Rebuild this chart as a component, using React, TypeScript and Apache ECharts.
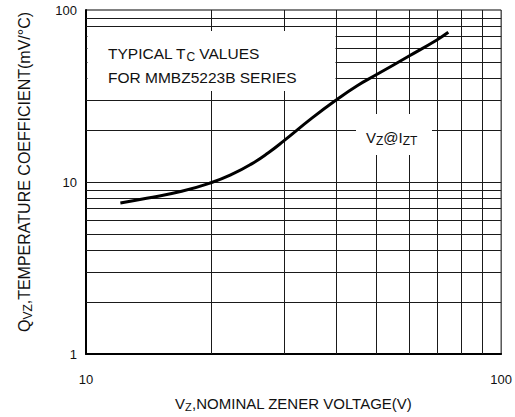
import React, { useEffect, useRef } from "react";
import * as echarts from "echarts";

// Data
const vzVolts = [12.1, 14, 17, 20, 22.5, 25, 27.5, 30, 35, 40, 45, 50, 60, 70, 74.6];
const tcValues = [7.55, 8.04, 8.83, 9.9, 11.1, 12.7, 14.8, 17.4, 23.5, 29.9, 36.3, 42, 54, 67, 74.2];
const xGridValues = [20, 30, 40, 50, 60, 70, 80, 90];
const yGridValues = [2, 3, 4, 5, 6, 7, 8, 9, 10, 20, 30, 40, 50, 60, 70, 80, 90];
const xRange = [10, 100];
const yRange = [1, 100];

const FONT = "'Liberation Sans', Arial, sans-serif";

export default function App() {
  const ref = useRef<HTMLDivElement>(null);
  useEffect(() => {
    if (!ref.current) return;
    const chart = echarts.init(ref.current, null, { renderer: "svg" });
    const gridLine = { color: "#1a1a1a", width: 1, type: "solid" as const };
    chart.setOption({
      animation: false,
      backgroundColor: "#fff",
      textStyle: { fontFamily: FONT },
      grid: {
        left: 86,
        right: 10,
        top: 10,
        bottom: 60,
        show: true,
        borderColor: "#000",
        borderWidth: 1,
        backgroundColor: "transparent",
      },
      xAxis: {
        type: "log",
        logBase: 10,
        min: xRange[0],
        max: xRange[1],
        axisLine: { show: true, lineStyle: { color: "#000", width: 2 } },
        axisTick: { show: false },
        splitLine: { show: false },
        axisLabel: { color: "#111", fontSize: 13, fontFamily: FONT, margin: 19 },
        name: "V{sub|Z},NOMINAL ZENER VOLTAGE(V)",
        nameLocation: "middle",
        nameGap: 40,
        nameTextStyle: {
          color: "#111",
          fontSize: 15,
          fontFamily: FONT,
          rich: {
            sub: { fontSize: 11, fontFamily: FONT, color: "#111", padding: [7, 0, 0, 0] },
          },
        },
      },
      yAxis: {
        type: "log",
        logBase: 10,
        min: yRange[0],
        max: yRange[1],
        axisLine: { show: true, lineStyle: { color: "#000", width: 2 } },
        axisTick: { show: false },
        splitLine: { show: false },
        axisLabel: { color: "#111", fontSize: 13, fontFamily: FONT, margin: 9 },
      },
      graphic: [
        {
          type: "rect",
          z: 100,
          shape: { x: 87.5, y: 31, width: 248, height: 60 },
          style: { fill: "#fff" },
        },
        {
          type: "rect",
          z: 100,
          shape: { x: 356, y: 114, width: 76, height: 41 },
          style: { fill: "#fff" },
        },
        {
          type: "text",
          z: 101,
          x: 108,
          y: 53,
          style: {
            text: "TYPICAL T{sub|C} VALUES",
            fill: "#111",
            font: `15.5px ${FONT}`,
            verticalAlign: "middle",
            rich: { sub: { fontSize: 12, fontFamily: FONT, fill: "#111", padding: [8, 0, 0, 0] } },
          },
        },
        {
          type: "text",
          z: 101,
          x: 108,
          y: 77,
          style: {
            text: "FOR MMBZ5223B SERIES",
            fill: "#111",
            font: `15.5px ${FONT}`,
            verticalAlign: "middle",
          },
        },
        {
          type: "text",
          z: 101,
          x: 366,
          y: 137,
          style: {
            text: "V{sub|Z}@I{sub|ZT}",
            fill: "#111",
            font: `15px ${FONT}`,
            verticalAlign: "middle",
            rich: { sub: { fontSize: 12, fontFamily: FONT, fill: "#111", padding: [8, 0, 0, 0] } },
          },
        },
        {
          type: "text",
          z: 101,
          x: 24,
          y: 172,
          rotation: Math.PI / 2,
          style: {
            text: "Q{sub|VZ},TEMPERATURE COEFFICIENT(mV/°C)",
            fill: "#111",
            font: `16px ${FONT}`,
            align: "center",
            verticalAlign: "middle",
            rich: { sub: { fontSize: 12, fontFamily: FONT, fill: "#111", padding: [7, 0, 0, 0] } },
          },
        },
      ],
      series: [
        {
          type: "line",
          data: [],
          silent: true,
          z: 1,
          markLine: {
            silent: true,
            symbol: "none",
            label: { show: false },
            lineStyle: gridLine,
            data: [
              ...xGridValues.map((v) => ({ xAxis: v })),
              ...yGridValues.map((v) => ({ yAxis: v })),
            ],
          },
        },
        {
          type: "line",
          name: "Vz@Izt",
          data: vzVolts.map((v, i) => [v, tcValues[i]]),
          smooth: 0.5,
          showSymbol: false,
          symbol: "none",
          z: 5,
          lineStyle: { color: "#000", width: 3 },
        },
      ],
    });
    return () => chart.dispose();
  }, []);
  return (
    <div
      ref={ref}
      style={{ position: "fixed", left: 0, top: 0, width: 515, height: 417, background: "#fff" }}
    />
  );
}
